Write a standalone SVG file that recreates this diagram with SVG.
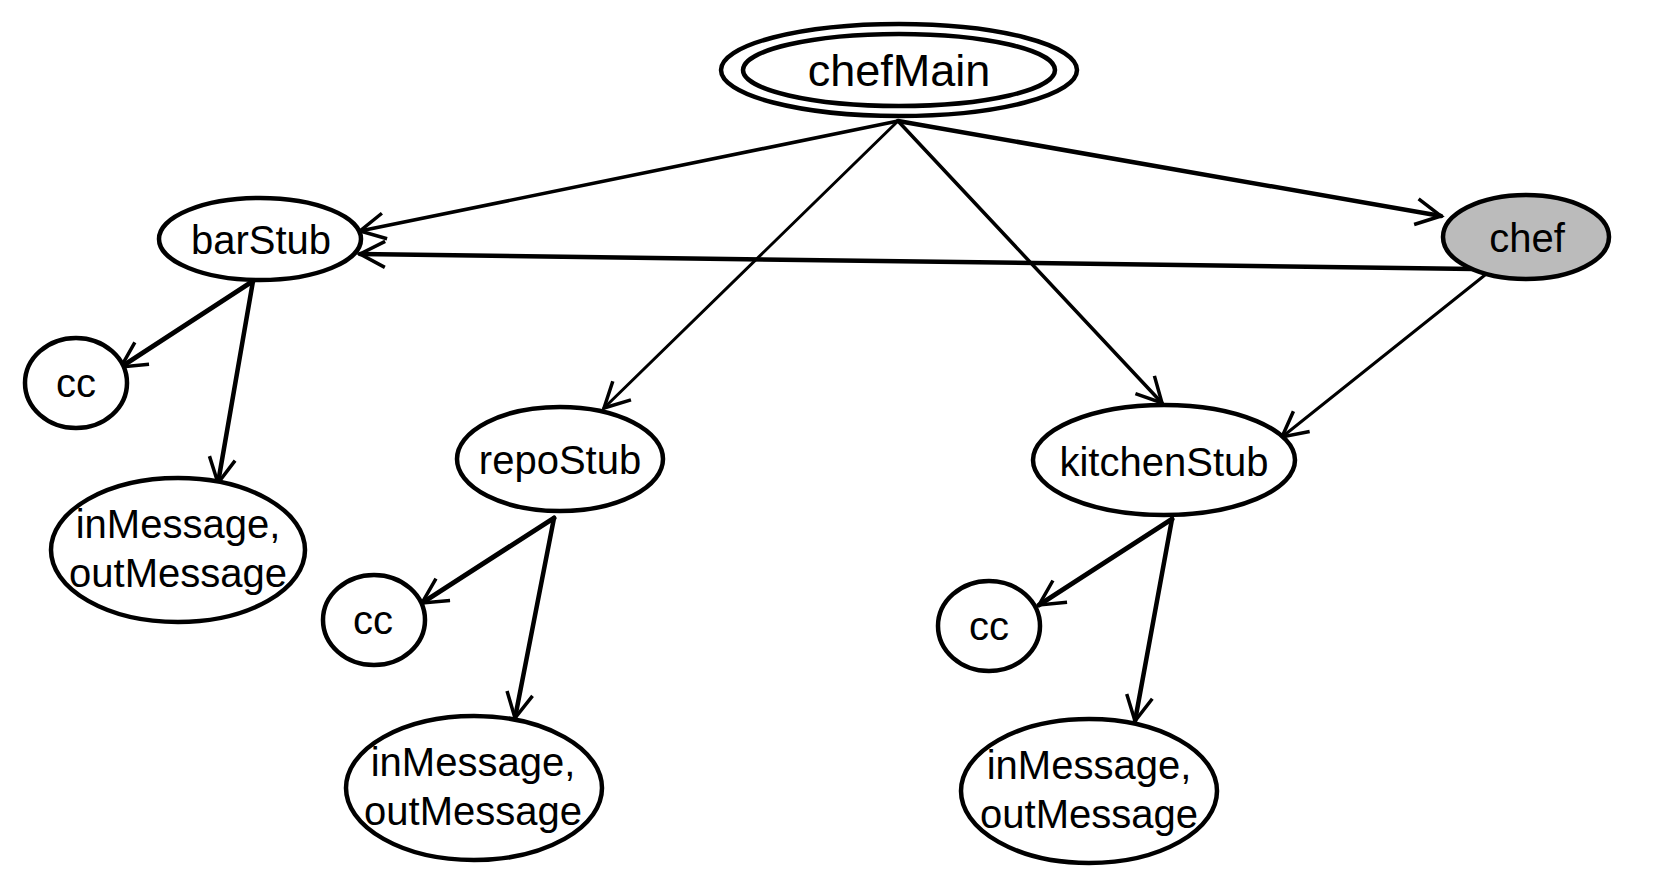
<svg xmlns="http://www.w3.org/2000/svg" width="1671" height="893" viewBox="0 0 1671 893">
<defs>
<style>
.node{fill:#fff;stroke:#000;stroke-width:4.5}
.gray{fill:#bbbbbb}
.lbl{font-family:"Liberation Sans",Arial,sans-serif;font-size:40px;fill:#000;text-anchor:middle}
.big{font-size:45px}
.e{stroke:#000;fill:none;stroke-linecap:round}
</style>
<marker id="arr" markerUnits="userSpaceOnUse" markerWidth="32" markerHeight="30" viewBox="0 0 32 30" refX="28" refY="15" orient="auto">
<path d="M3,2 L28,15 L3,28" fill="none" stroke="#000" stroke-width="3.5" stroke-linejoin="miter"/>
</marker>
</defs>
<rect width="1671" height="893" fill="#fff"/>
<g id="connectors">
<line class="e" x1="898" y1="121" x2="360" y2="231" stroke-width="3.6" marker-end="url(#arr)"/>
<line class="e" x1="898" y1="121" x2="1441" y2="216" stroke-width="4.5" marker-end="url(#arr)"/>
<line class="e" x1="898" y1="121" x2="604" y2="408" stroke-width="3" marker-end="url(#arr)"/>
<line class="e" x1="898" y1="121" x2="1162" y2="403" stroke-width="3.5" marker-end="url(#arr)"/>
<line class="e" x1="1474" y1="269" x2="360" y2="254" stroke-width="4.5" marker-end="url(#arr)"/>
<line class="e" x1="1485" y1="275" x2="1282" y2="437" stroke-width="3" marker-end="url(#arr)"/>
<line class="e" x1="253" y1="281" x2="121" y2="367" stroke-width="5" marker-end="url(#arr)"/>
<line class="e" x1="253" y1="281" x2="218" y2="483" stroke-width="4.5" marker-end="url(#arr)"/>
<line class="e" x1="554" y1="518" x2="422" y2="603" stroke-width="5" marker-end="url(#arr)"/>
<line class="e" x1="554" y1="518" x2="515" y2="718" stroke-width="4.5" marker-end="url(#arr)"/>
<line class="e" x1="1172" y1="519" x2="1039" y2="605" stroke-width="5" marker-end="url(#arr)"/>
<line class="e" x1="1172" y1="519" x2="1135" y2="721" stroke-width="4.5" marker-end="url(#arr)"/>
</g>
<g id="chefMain">
<ellipse class="node" cx="899" cy="70" rx="178" ry="46"/>
<ellipse class="node" cx="899" cy="70" rx="156" ry="36"/>
<text class="lbl big" x="899" y="86">chefMain</text>
</g>
<g id="barStub">
<ellipse class="node" cx="260" cy="239" rx="101" ry="41"/>
<text class="lbl" x="261" y="254">barStub</text>
</g>
<g id="chef">
<ellipse class="node gray" cx="1526" cy="237" rx="83" ry="42"/>
<text class="lbl" x="1527" y="252">chef</text>
</g>
<g id="cc1">
<ellipse class="node" cx="76" cy="383" rx="51" ry="45"/>
<text class="lbl" x="76" y="397">cc</text>
</g>
<g id="msg1">
<ellipse class="node" cx="178" cy="550" rx="127" ry="72"/>
<text class="lbl" x="178" y="538">inMessage,</text>
<text class="lbl" x="178" y="587">outMessage</text>
</g>
<g id="repoStub">
<ellipse class="node" cx="560" cy="459" rx="103" ry="52"/>
<text class="lbl" x="560" y="474">repoStub</text>
</g>
<g id="cc2">
<ellipse class="node" cx="374" cy="620" rx="51" ry="45"/>
<text class="lbl" x="373" y="634">cc</text>
</g>
<g id="msg2">
<ellipse class="node" cx="474" cy="788" rx="128" ry="72"/>
<text class="lbl" x="473" y="776">inMessage,</text>
<text class="lbl" x="473" y="825">outMessage</text>
</g>
<g id="kitchenStub">
<ellipse class="node" cx="1164" cy="460" rx="131" ry="55"/>
<text class="lbl" x="1164" y="476">kitchenStub</text>
</g>
<g id="cc3">
<ellipse class="node" cx="989" cy="626" rx="51" ry="45"/>
<text class="lbl" x="989" y="640">cc</text>
</g>
<g id="msg3">
<ellipse class="node" cx="1089" cy="791" rx="128" ry="72"/>
<text class="lbl" x="1089" y="779">inMessage,</text>
<text class="lbl" x="1089" y="828">outMessage</text>
</g>
</svg>
